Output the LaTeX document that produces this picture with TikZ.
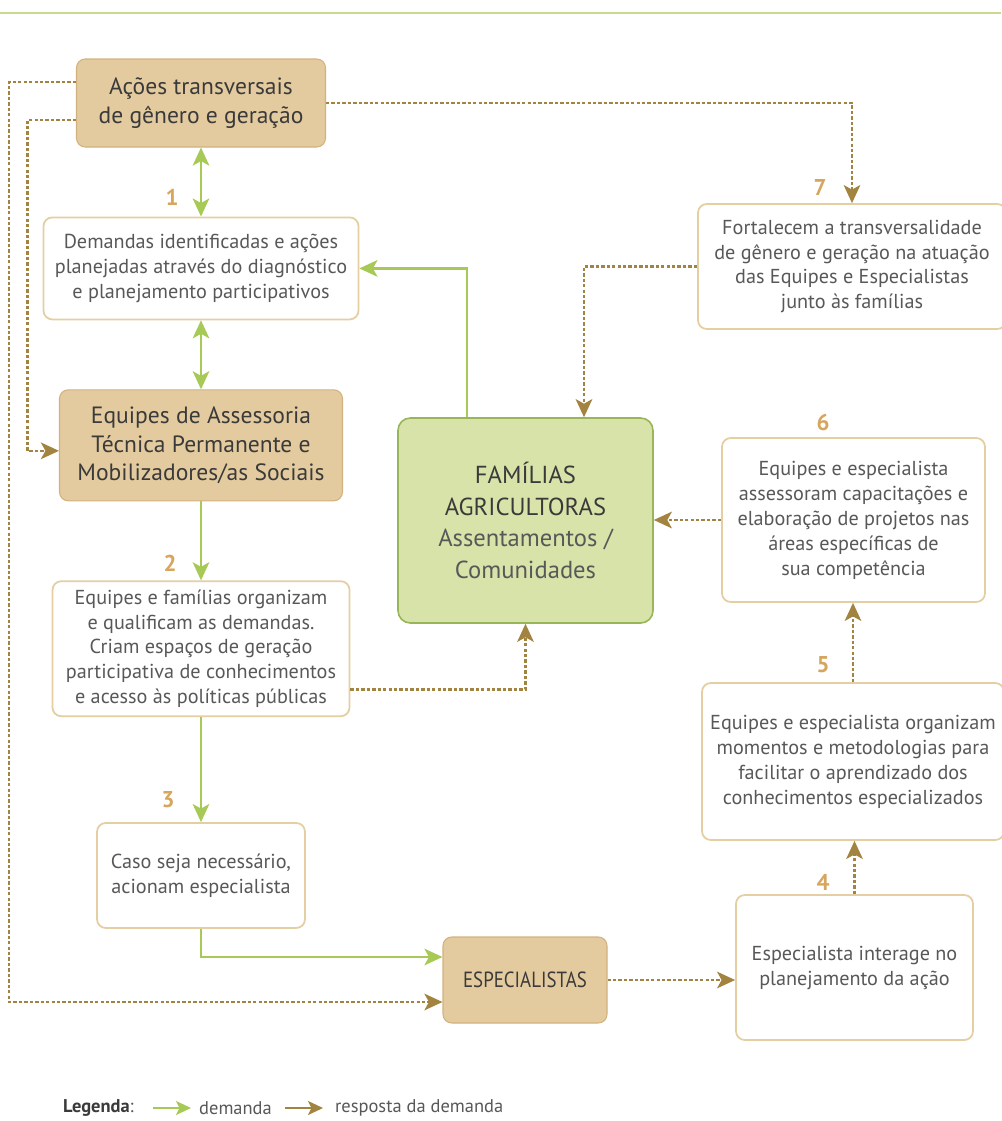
\documentclass[tikz,border=0pt]{standalone}
\usepackage{fontspec}
\setmainfont{PT Sans}
\newfontfamily\condfont[FakeStretch=0.86]{PT Sans}
\usetikzlibrary{arrows.meta, positioning, calc}
\definecolor{tanfill}{HTML}{E3CB9F}
\definecolor{tanline}{HTML}{D2B27E}
\definecolor{boxline}{HTML}{E4CFA3}
\definecolor{famfill}{HTML}{D7E3A9}
\definecolor{famline}{HTML}{98B559}
\definecolor{demgreen}{HTML}{A6CA55}
\definecolor{respbrown}{HTML}{A2833F}
\definecolor{numtan}{HTML}{D6A55E}
\definecolor{txtdark}{HTML}{3A3A3A}
\definecolor{txtgrey}{HTML}{585858}
\definecolor{topgreen}{HTML}{C9DA8F}
\tikzset{
  stepnode/.style    = {draw=boxline, line width=1pt, rounded corners=5pt,
                        fill=white, align=center, text=txtgrey, inner sep=0pt,
                        font=\fontsize{11.5}{14.2}\selectfont},
  actnode/.style     = {draw=tanline, line width=0.6pt, rounded corners=5pt,
                        fill=tanfill, align=center, text=txtdark, inner sep=0pt,
                        font=\fontsize{13.4}{16.2}\selectfont},
  famnode/.style     = {draw=famline, line width=0.9pt, rounded corners=7pt,
                        fill=famfill, align=center, text=txtdark, inner sep=0pt,
                        font=\fontsize{14}{18}\selectfont},
  numlabel/.style    = {text=numtan, font=\fontsize{13}{14}\selectfont\bfseries},
  legtext/.style     = {anchor=west, text=txtgrey, font=\fontsize{10.5}{12}\selectfont},
  demanda/.style     = {-{Stealth[length=3.6mm, width=3.3mm, inset=0.9mm]},
                        line width=1.5pt, demgreen},
  demandaboth/.style = {{Stealth[length=3.6mm, width=3.3mm, inset=0.9mm]}-{Stealth[length=3.6mm, width=3.3mm, inset=0.9mm]},
                        line width=1.5pt, demgreen},
  resposta/.style    = {-{Stealth[length=3.6mm, width=3.3mm, inset=0.9mm]},
                        line width=1.5pt, respbrown, dash pattern=on 1.9pt off 1.2pt},
  legarrow/.style    = {-{Stealth[length=3mm, width=2.8mm, inset=0.7mm]}, line width=1.2pt},
}

\begin{document}
\begin{tikzpicture}
    \useasboundingbox (0,0) rectangle (20.02,-22.42);
    \fill[white] (0,0) rectangle (20.02,-22.42);
    \draw[topgreen, line width=1.2pt] (0,-0.26) -- (20.02,-0.26);

    \node[actnode, minimum width=4.98cm, minimum height=1.76cm] (acoes) at (4.02,-2.06)
      {Ações transversais\\de gênero e geração};
    \node[stepnode, minimum width=6.3cm, minimum height=2.04cm, below=13.8mm of acoes] (diag)
      {Demandas identificadas e ações\\planejadas através do diagnóstico\\e planejamento participativos};
    \node[actnode, minimum width=5.66cm, minimum height=2.22cm, below=13.8mm of diag] (equipes)
      {Equipes de Assessoria\\Técnica Permanente e\\Mobilizadores/as Sociais};
    \node[stepnode, minimum width=5.94cm, minimum height=2.7cm, below=15.8mm of equipes] (qualif)
      {Equipes e famílias organizam\\e qualificam as demandas.\\Criam espaços de geração\\participativa de conhecimentos\\e acesso às políticas públicas};
    \node[stepnode, minimum width=4.16cm, minimum height=2.1cm, below=21mm of qualif] (caso)
      {Caso seja necessário,\\acionam especialista};

    \node[famnode, minimum width=5.1cm, minimum height=4.1cm] (familias) at (10.51,-10.41)
      {FAMÍLIAS\\AGRICULTORAS\\{\color{txtgrey}Assentamentos /}\\{\color{txtgrey}Comunidades}};
    \node[actnode, minimum width=3.28cm, minimum height=1.72cm,
          font=\condfont\fontsize{12.5}{14}\selectfont] (especial) at (10.5,-19.6) {ESPECIALISTAS};

    \node[stepnode, minimum width=6.16cm, minimum height=2.5cm] (fortal) at (17.04,-5.33)
      {Fortalecem a transversalidade\\de gênero e geração na atuação\\das Equipes e Especialistas\\junto às famílias};
    \node[stepnode, minimum width=5.26cm, minimum height=3.28cm] (assess) at (17.07,-10.4)
      {Equipes e especialista\\assessoram capacitações e\\elaboração de projetos nas\\áreas específicas de\\sua competência};
    \node[stepnode, minimum width=6.04cm, minimum height=3.14cm] (momentos) at (17.06,-15.23)
      {Equipes e especialista organizam\\momentos e metodologias para\\facilitar o aprendizado dos\\conhecimentos especializados};
    \node[stepnode, minimum width=4.74cm, minimum height=2.9cm] (interage) at (17.09,-19.35)
      {Especialista interage no\\planejamento da ação};

    \node[numlabel] (n1) at (3.44,-3.94) {1};
    \node[numlabel] (n2) at (3.4,-11.26) {2};
    \node[numlabel] (n3) at (3.36,-16.0) {3};
    \node[numlabel] (n4) at (16.46,-17.64) {4};
    \node[numlabel] (n5) at (16.46,-13.3) {5};
    \node[numlabel] (n6) at (16.46,-8.44) {6};
    \node[numlabel] (n7) at (16.4,-3.74) {7};

    \draw[demandaboth] (acoes) -- (diag);
    \draw[demandaboth] (diag) -- (equipes);
    \draw[demanda] (equipes) -- (qualif);
    \draw[demanda] (qualif) -- (caso);
    \draw[demanda] (caso.south) |- ([yshift=4.6mm]especial.west);
    \draw[demanda] ([xshift=-11.7mm]familias.north) |- (diag.east);

    \draw[resposta] (acoes.east) -| (fortal.north);
    \draw[resposta] ([yshift=4.2mm]acoes.west) -- ++(-1.34,0) |- ([yshift=-4.4mm]especial.west);
    \draw[resposta] ([yshift=-3.4mm]acoes.west) -- ++(-0.97,0) |- ([yshift=-1.1mm]equipes.west);
    \draw[resposta] (fortal.west) -| ([xshift=11.7mm]familias.north);
    \draw[resposta] ([yshift=-8.1mm]qualif.east) -| (familias.south);
    \draw[resposta] (assess.west) -- (assess.west -| familias.east);
    \draw[resposta] (momentos.north) -- (momentos.north |- assess.south);
    \draw[resposta] (interage.north) -- (interage.north |- momentos.south);
    \draw[resposta] (especial.east) -- (especial.east -| interage.west);

    \node[legtext] (legtitle) at (1.14,-22.16) {{\color{txtdark}\bfseries Legenda}:};
    \node[legtext] (legdem) at (3.86,-22.16) {demanda};
    \node[legtext] (legresp) at (6.58,-22.16) {resposta da demanda};
    \draw[legarrow, demgreen] ([xshift=2.6mm]legtitle.east) -- ([xshift=-0.4mm]legdem.west);
    \draw[legarrow, respbrown] ([xshift=1.4mm]legdem.east) -- ([xshift=-1.2mm]legresp.west);
\end{tikzpicture}
\end{document}
